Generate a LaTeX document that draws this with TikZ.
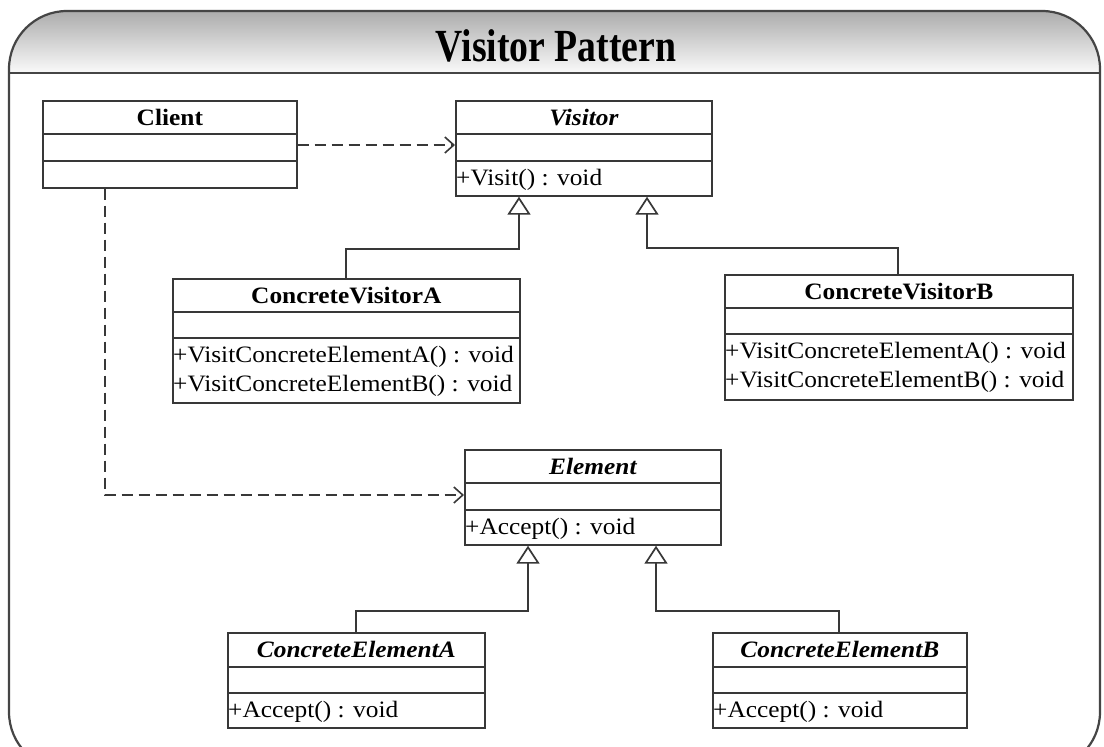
\documentclass[tikz,border=0pt]{standalone}
\usepackage{fontspec}
\setmainfont{Liberation Serif}
\usepackage{graphicx}
\usetikzlibrary{arrows.meta,calc}
\newcommand{\hstr}[1]{\scalebox{1.08}[1]{#1}}
\definecolor{linec}{HTML}{383838}
\definecolor{framec}{HTML}{454545}
\begin{document}
\begin{tikzpicture}[x=1pt,y=-1pt,
  cls/.style={draw=linec, line width=1.7pt, fill=white, inner sep=0pt, anchor=north west},
  sepline/.style={draw=linec, line width=1.7pt},
  ttl/.style={font=\fontsize{23.5}{26}\selectfont\bfseries, anchor=base, inner sep=0pt},
  ittl/.style={font=\fontsize{23.5}{26}\selectfont\bfseries\itshape, anchor=base, inner sep=0pt},
  meth/.style={font=\fontsize{23.5}{26}\selectfont, anchor=base west, inner sep=0pt},
  dep/.style={draw=linec, line width=1.6pt, dash pattern=on 11pt off 6pt, -{Straight Barb[length=9pt, width=16pt]}},
  gen/.style={draw=linec, line width=1.7pt, -{Triangle[open, length=18pt, width=23pt]}}
]
\useasboundingbox (0,0) rectangle (1104,747);
\fill[white] (0,0) rectangle (1104,747);
% frame and header
\begin{scope}
  \clip[rounded corners=58pt] (9,11) rectangle (1100,770);
  \shade[top color=gray!65, bottom color=gray!4] (9,11) rectangle (1100,73);
\end{scope}
\draw[framec, line width=2.2pt, rounded corners=58pt] (9,11) rectangle (1100,770);
\draw[framec, line width=2.2pt] (9,73) -- (1100,73);
\node[anchor=base, inner sep=0pt, font=\fontsize{46}{50}\selectfont\bfseries] (title) at (556,61) {\scalebox{0.82}[1]{Visitor Pattern}};

% Client
\node[cls, minimum width=254pt, minimum height=87pt] (client) at (42,100) {};
\draw[sepline] ($(client.north west)+(0,34)$) -- ($(client.north east)+(0,34)$);
\draw[sepline] ($(client.north west)+(0,61)$) -- ($(client.north east)+(0,61)$);
\node[ttl] (client-name) at ($(client.north)+(0,25)$) {\hstr{Client}};

% Visitor
\node[cls, minimum width=256pt, minimum height=95pt] (visitor) at (455,100) {};
\draw[sepline] ($(visitor.north west)+(0,34)$) -- ($(visitor.north east)+(0,34)$);
\draw[sepline] ($(visitor.north west)+(0,61)$) -- ($(visitor.north east)+(0,61)$);
\node[ittl] (visitor-name) at ($(visitor.north)+(0,25)$) {\hstr{Visitor}};
\node[meth] (visitor-m1) at ($(visitor.north west)+(1,85)$) {\hstr{+Visit() : void}};

% ConcreteVisitorA
\node[cls, minimum width=347pt, minimum height=124pt] (cva) at (172,278) {};
\draw[sepline] ($(cva.north west)+(0,34)$) -- ($(cva.north east)+(0,34)$);
\draw[sepline] ($(cva.north west)+(0,60)$) -- ($(cva.north east)+(0,60)$);
\node[ttl] (cva-name) at ($(cva.north)+(0,25)$) {\hstr{ConcreteVisitorA}};
\node[meth] (cva-m1) at ($(cva.north west)+(1,84)$) {\hstr{+VisitConcreteElementA() : void}};
\node[meth] (cva-m2) at ($(cva.north west)+(1,113)$) {\hstr{+VisitConcreteElementB() : void}};

% ConcreteVisitorB
\node[cls, minimum width=348pt, minimum height=125pt] (cvb) at (724,274) {};
\draw[sepline] ($(cvb.north west)+(0,34)$) -- ($(cvb.north east)+(0,34)$);
\draw[sepline] ($(cvb.north west)+(0,60)$) -- ($(cvb.north east)+(0,60)$);
\node[ttl] (cvb-name) at ($(cvb.north)+(0,25)$) {\hstr{ConcreteVisitorB}};
\node[meth] (cvb-m1) at ($(cvb.north west)+(1,84)$) {\hstr{+VisitConcreteElementA() : void}};
\node[meth] (cvb-m2) at ($(cvb.north west)+(1,113)$) {\hstr{+VisitConcreteElementB() : void}};

% Element
\node[cls, minimum width=256pt, minimum height=95pt] (element) at (464,449) {};
\draw[sepline] ($(element.north west)+(0,34)$) -- ($(element.north east)+(0,34)$);
\draw[sepline] ($(element.north west)+(0,61)$) -- ($(element.north east)+(0,61)$);
\node[ittl] (element-name) at ($(element.north)+(0,25)$) {\hstr{Element}};
\node[meth] (element-m1) at ($(element.north west)+(1,85)$) {\hstr{+Accept() : void}};

% ConcreteElementA
\node[cls, minimum width=257pt, minimum height=95pt] (cea) at (227,632) {};
\draw[sepline] ($(cea.north west)+(0,35)$) -- ($(cea.north east)+(0,35)$);
\draw[sepline] ($(cea.north west)+(0,61)$) -- ($(cea.north east)+(0,61)$);
\node[ittl] (cea-name) at ($(cea.north)+(0,25)$) {\hstr{ConcreteElementA}};
\node[meth] (cea-m1) at ($(cea.north west)+(1,85)$) {\hstr{+Accept() : void}};

% ConcreteElementB
\node[cls, minimum width=254pt, minimum height=95pt] (ceb) at (712,632) {};
\draw[sepline] ($(ceb.north west)+(0,35)$) -- ($(ceb.north east)+(0,35)$);
\draw[sepline] ($(ceb.north west)+(0,61)$) -- ($(ceb.north east)+(0,61)$);
\node[ittl] (ceb-name) at ($(ceb.north)+(0,25)$) {\hstr{ConcreteElementB}};
\node[meth] (ceb-m1) at ($(ceb.north west)+(1,85)$) {\hstr{+Accept() : void}};

% connectors
\draw[dep] ($(client.north east)+(0,45)$) -- ($(visitor.north west)+(0,45)$);
\draw[dep] ($(client.south west)+(63,0)$) |- ($(element.north west)+(0,46)$);
\draw[gen] ($(cva.north west)+(174,0)$) -- ++(0,-29) -| ($(visitor.south west)+(64,0)$);
\draw[gen] ($(cvb.north west)+(174,0)$) -- ++(0,-26) -| ($(visitor.south west)+(192,0)$);
\draw[gen] ($(cea.north west)+(129,0)$) -- ++(0,-21) -| ($(element.south west)+(64,0)$);
\draw[gen] ($(ceb.north west)+(127,0)$) -- ++(0,-21) -| ($(element.south west)+(192,0)$);
\end{tikzpicture}
\end{document}
